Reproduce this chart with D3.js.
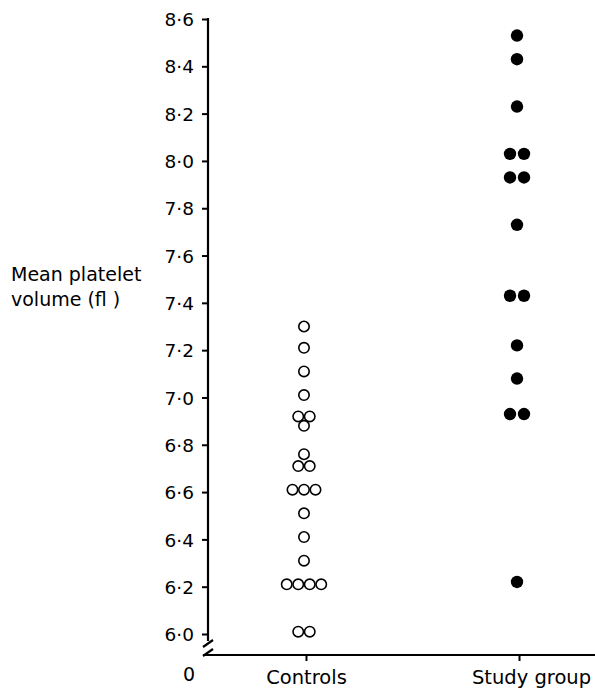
<!DOCTYPE html>
<html>
<head>
<meta charset="utf-8">
<script src="https://cdn.jsdelivr.net/npm/d3@7"></script>
<style>
  body { margin: 0; background: #fff; }
  svg text { font-family: "DejaVu Sans", sans-serif; fill: #000; }
</style>
</head>
<body>
<div id="chart"></div>
<script>
// values (fl)
const categories = ['Controls', 'Study group'];
const controls = [7.30, 7.21, 7.11, 7.01, 6.92, 6.92, 6.88, 6.76, 6.71, 6.71,
    6.61, 6.61, 6.61, 6.51, 6.41, 6.31, 6.21, 6.21, 6.21, 6.21, 6.01, 6.01];
const studyGroup = [8.53, 8.43, 8.23, 8.03, 8.03, 7.93, 7.93, 7.73, 7.43, 7.43,
    7.22, 7.08, 6.93, 6.93, 6.22];
const yTicks = [6.0, 6.2, 6.4, 6.6, 6.8, 7.0, 7.2, 7.4, 7.6, 7.8, 8.0, 8.2, 8.4, 8.6];

const width = 595, height = 691;
const axisX = 208, baseY = 655;

const svg = d3.select('#chart')
    .append('svg')
    .attr('width', width)
    .attr('height', height);

const y = d3.scaleLinear().domain([6.0, 8.6]).range([634, 19]);
const x = d3.scalePoint().domain(categories).range([208, 617]).padding(0.46);

// y axis
const yAxis = d3.axisLeft(y)
    .tickValues(yTicks)
    .tickSize(6)
    .tickPadding(8)
    .tickFormat(d => d3.format('.1f')(d).replace('.', '·'));

const yG = svg.append('g')
    .attr('transform', `translate(${axisX},0)`)
    .call(yAxis);
yG.select('.domain').remove();
yG.selectAll('.tick line').attr('stroke', '#000').attr('stroke-width', 2);
yG.selectAll('.tick text')
    .style('font-size', '18.5px')
    .attr('dy', '0.36em');

svg.append('line')
    .attr('x1', axisX).attr('x2', axisX)
    .attr('y1', y(8.6) - 1).attr('y2', 641)
    .attr('stroke', '#000').attr('stroke-width', 2.2);

// axis break
const breaks = [[203, 647, 213, 640], [203, 656, 213, 649]];
svg.selectAll('.brk')
    .data(breaks)
    .enter()
    .append('line')
    .attr('class', 'brk')
    .attr('x1', d => d[0]).attr('y1', d => d[1])
    .attr('x2', d => d[2]).attr('y2', d => d[3])
    .attr('stroke', '#000').attr('stroke-width', 2.2);

// x axis
const xAxis = d3.axisBottom(x).tickSize(6).tickPadding(9);
const xG = svg.append('g')
    .attr('transform', `translate(0,${baseY})`)
    .call(xAxis);
xG.select('.domain').remove();
xG.selectAll('.tick line').attr('stroke', '#000').attr('stroke-width', 2);
xG.selectAll('.tick text').style('font-size', '19.5px');
xG.selectAll('.tick text').filter(d => d === 'Study group').attr('dx', 12);

svg.append('line')
    .attr('x1', 203).attr('x2', width)
    .attr('y1', baseY).attr('y2', baseY)
    .attr('stroke', '#000').attr('stroke-width', 2.2);

svg.append('text')
    .attr('x', 189).attr('y', 681)
    .attr('text-anchor', 'middle')
    .style('font-size', '19px')
    .text('0');

// y label
svg.append('text')
    .attr('x', 11).attr('y', 281)
    .style('font-size', '19px')
    .text('Mean platelet');
svg.append('text')
    .attr('x', 11).attr('y', 306)
    .style('font-size', '19px')
    .text('volume (fl )');

// points: equal values spread side by side
function layout(values, cat, gap) {
    const pts = [];
    d3.group(values, v => v).forEach(vals => {
        const n = vals.length;
        vals.forEach((v, i) => pts.push({ v: v, dx: (i - (n - 1) / 2) * gap, cat: cat }));
    });
    return pts;
}

svg.append('g')
    .selectAll('circle')
    .data(layout(controls, categories[0], 11.5))
    .enter()
    .append('circle')
    .attr('cx', d => x(d.cat) - 2 + d.dx)
    .attr('cy', d => y(d.v))
    .attr('r', 5.2)
    .attr('fill', 'none')
    .attr('stroke', '#000')
    .attr('stroke-width', 1.6);

svg.append('g')
    .selectAll('circle')
    .data(layout(studyGroup, categories[1], 14))
    .enter()
    .append('circle')
    .attr('cx', d => x(d.cat) - 2 + d.dx)
    .attr('cy', d => y(d.v))
    .attr('r', 6.2)
    .attr('fill', '#000');
</script>
</body>
</html>
